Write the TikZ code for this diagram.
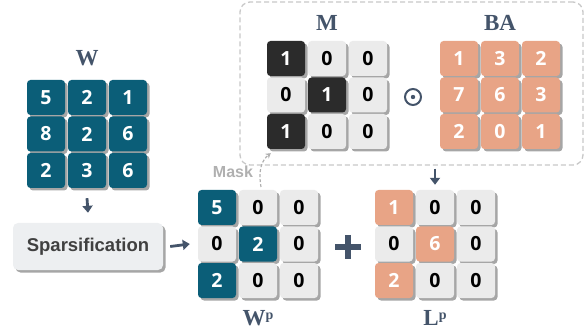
\documentclass[tikz,border=0pt]{standalone}
\usepackage{fontspec}
\setmainfont{Liberation Serif}
\newfontfamily\digitfont{Open Sans}
\newfontfamily\arialf{Liberation Sans}
\usetikzlibrary{arrows.meta,shadows}
\definecolor{tealc}{HTML}{0B5E78}
\definecolor{orangec}{HTML}{E8A486}
\definecolor{lgrayc}{HTML}{EBEBEB}
\definecolor{blackc}{HTML}{2B2B2B}
\definecolor{slatec}{HTML}{44546A}
\definecolor{boxc}{HTML}{EDEFF1}
\definecolor{dashc}{HTML}{C8C8C8}
\definecolor{maskc}{HTML}{B0B0B0}
\tikzset{
  cell/.style={rounded corners=3.5pt, minimum width=38pt, minimum height=35pt, inner sep=0pt,
    font=\digitfont\bfseries\fontsize{19.5}{21}\selectfont,
    drop shadow={shadow xshift=2.5pt, shadow yshift=-2.5pt, fill=black, opacity=0.35}},
  mtitle/.style={font=\bfseries\fontsize{23}{25}\selectfont, text=slatec, inner sep=0pt},
  arr/.style={line width=2.8pt, draw=slatec, -{Triangle[width=10pt,length=7pt]}},
}
\newcommand\drawmat[4]{%
  \foreach [count=\i from 0] \f/\t/\v in {#4}{%
    \pgfmathtruncatemacro\rr{\i/3}%
    \pgfmathtruncatemacro\cc{mod(\i,3)}%
    \node[cell, fill=\f, text=\t] (#1-\rr-\cc) at ({#2+\cc*41+19},{#3+\rr*36.5+17.5}) {\v};
  }}
\begin{document}
\begin{tikzpicture}[x=1pt,y=-1pt]
\useasboundingbox (0,0) rectangle (585,336);
% dashed box
\node[draw=dashc, dashed, dash pattern=on 5pt off 3pt, line width=1.3pt, rounded corners=10pt,
  minimum width=343pt, minimum height=163pt, inner sep=0pt] (box) at (411.5,83.5) {};
% W
\node[mtitle] (Wt) at (87,58) {W};
\drawmat{W}{27}{80}{tealc/white/5,tealc/white/2,tealc/white/1,tealc/white/8,tealc/white/2,tealc/white/6,tealc/white/2,tealc/white/3,tealc/white/6}
% Sparsification
\node[rounded corners=5pt, fill=boxc, minimum width=150pt, minimum height=47pt, inner sep=0pt,
  text=black!75, font=\arialf\bfseries\fontsize{18.5}{20}\selectfont,
  drop shadow={shadow xshift=2.5pt, shadow yshift=-2.5pt, fill=black, opacity=0.35}] (spars) at (88,246.5) {Sparsification};
\draw[arr] ([yshift=-10pt]W-2-1.south) -- ([yshift=10pt]spars.north);
% M
\node[mtitle] (Mt) at (327,23) {M};
\drawmat{M}{267}{41}{blackc/white/1,lgrayc/black/0,lgrayc/black/0,lgrayc/black/0,blackc/white/1,lgrayc/black/0,blackc/white/1,lgrayc/black/0,lgrayc/black/0}
% odot
\node[draw=slatec, line width=2pt, circle, minimum size=16pt, inner sep=0pt] (odot) at (413,97) {};
\fill[slatec] (odot.center) circle (2.2pt);
% BA
\node[mtitle] (BAt) at (500,23) {BA};
\drawmat{BA}{440}{41}{orangec/white/1,orangec/white/3,orangec/white/2,orangec/white/7,orangec/white/6,orangec/white/3,orangec/white/2,orangec/white/0,orangec/white/1}
% Wp
\drawmat{Wp}{198}{190}{tealc/white/5,lgrayc/black/0,lgrayc/black/0,lgrayc/black/0,tealc/white/2,lgrayc/black/0,tealc/white/2,lgrayc/black/0,lgrayc/black/0}
\node[mtitle] (Wpt) at (258,318) {W\raisebox{0.55ex}{\fontsize{14}{14}\selectfont p}};
\draw[arr] ([xshift=7pt]spars.east) -- ([xshift=-8pt]Wp-1-0.west);
% plus
\coordinate (plus) at (348,247);
\draw[slatec, line width=6pt] ([xshift=-13pt]plus) -- ([xshift=13pt]plus);
\draw[slatec, line width=6pt] ([yshift=12pt]plus) -- ([yshift=-12pt]plus);
% Lp
\drawmat{Lp}{375}{190}{orangec/white/1,lgrayc/black/0,lgrayc/black/0,lgrayc/black/0,orangec/white/6,lgrayc/black/0,orangec/white/2,lgrayc/black/0,lgrayc/black/0}
\node[mtitle] (Lpt) at (435,318) {L\raisebox{0.55ex}{\fontsize{14}{14}\selectfont p}};
\draw[arr] ([yshift=-3pt]box.south -| Lp-0-1.north) -- ([yshift=5pt]Lp-0-1.north);
% Mask
\node[text=maskc, font=\arialf\bfseries\fontsize{16}{18}\selectfont, inner sep=0pt] (mask) at (233,172) {Mask};
\coordinate (maskstart) at (261,187);
\draw[maskc, line width=1.2pt, dashed, dash pattern=on 3pt off 2pt, -{Stealth[width=6pt,length=5pt]}]
  (maskstart) .. controls (258,170) and (262,160) .. ([shift={(4,4)}]M-2-0.south west);
\end{tikzpicture}
\end{document}
